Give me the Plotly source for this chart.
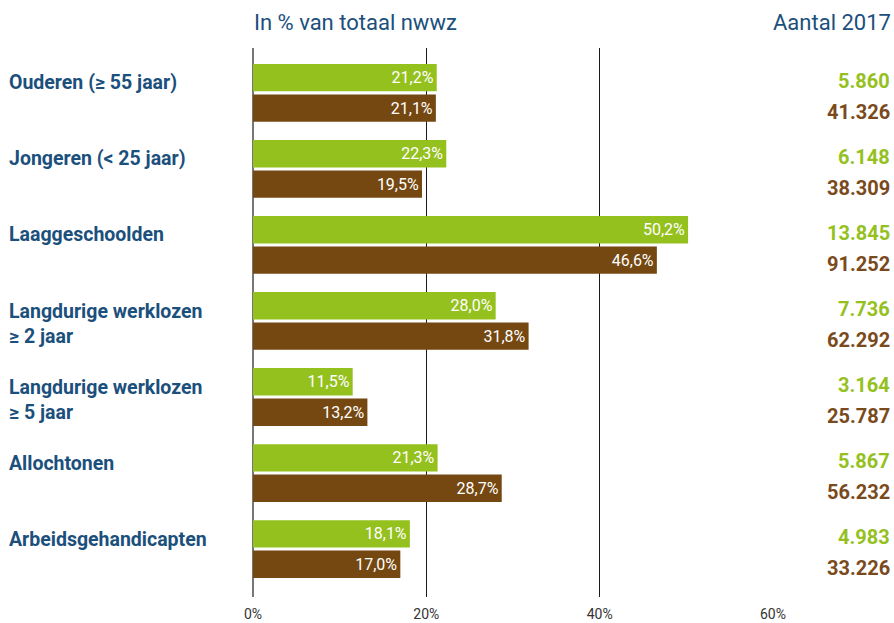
import plotly.graph_objects as go

categories = ["Ouderen (≥ 55 jaar)", "Jongeren (< 25 jaar)", "Laaggeschoolden",
              "Langdurige werklozen<br>≥ 2 jaar", "Langdurige werklozen<br>≥ 5 jaar",
              "Allochtonen", "Arbeidsgehandicapten"]
pct_green = [21.2, 22.3, 50.2, 28.0, 11.5, 21.3, 18.1]
pct_brown = [21.1, 19.5, 46.6, 31.8, 13.2, 28.7, 17.0]
count_green = [5860, 6148, 13845, 7736, 3164, 5867, 4983]
count_brown = [41326, 38309, 91252, 62292, 25787, 56232, 33226]
tick_vals = [0, 20, 40, 60]
tick_text = ["0%", "20%", "40%", "60%"]

GREEN = "#95c11f"
BROWN = "#754812"
BROWN_TXT = "#7a4a1c"
BLUE = "#1b4f7c"
FONT = "Roboto, Arial, sans-serif"

W, H = 894, 623
ML, MR, MT, MB = 253, 121, 48, 26
PW = W - ML - MR
PH = H - MT - MB


def fmt_pct(v):
    return f"{v:.1f}".replace(".", ",") + "%"


def fmt_int(v):
    return f"{v:,}".replace(",", ".")


def px_x(page_x):
    return (page_x - ML) / PW


def px_y(page_y):
    return 1 - (page_y - MT) / PH


ys = list(range(len(categories)))

fig = go.Figure()
for vals, col in ((pct_green, GREEN), (pct_brown, BROWN)):
    fig.add_trace(go.Bar(y=ys, x=vals, orientation="h", marker_color=col,
                         marker_line_width=0,
                         text=[fmt_pct(v) for v in vals], textposition="inside",
                         insidetextanchor="end",
                         textfont=dict(color="white", size=16, family=FONT),
                         hoverinfo="skip"))

ann = []
for i, c in enumerate(categories):
    multi = "<br>" in c
    ann.append(dict(x=px_x(7), xref="paper", y=i, yref="y", text=c, showarrow=False,
                    xanchor="left", yanchor="middle", align="left",
                    yshift=-3 if multi else 10,
                    font=dict(family=FONT, size=19.5, color=BLUE, weight="bold")))
    ann.append(dict(x=px_x(892), xref="paper", y=i - 0.2, yref="y", text=fmt_int(count_green[i]),
                    showarrow=False, xanchor="right", yanchor="middle", yshift=-3.5,
                    font=dict(family=FONT, size=20, color=GREEN, weight="bold")))
    ann.append(dict(x=px_x(892), xref="paper", y=i + 0.2, yref="y", text=fmt_int(count_brown[i]),
                    showarrow=False, xanchor="right", yanchor="middle", yshift=-3.5,
                    font=dict(family=FONT, size=20, color=BROWN_TXT, weight="bold")))

ann.append(dict(x=px_x(252), xref="paper", y=px_y(22), yref="paper", text="In % van totaal nwwz",
                showarrow=False, xanchor="left", yanchor="middle",
                font=dict(family=FONT, size=22, color=BLUE)))
ann.append(dict(x=px_x(893), xref="paper", y=px_y(22), yref="paper", text="Aantal 2017",
                showarrow=False, xanchor="right", yanchor="middle",
                font=dict(family=FONT, size=22, color=BLUE)))

fig.update_layout(
    width=W, height=H,
    margin=dict(l=ML, r=MR, t=MT, b=MB, pad=0, autoexpand=False),
    paper_bgcolor="white", plot_bgcolor="white",
    barmode="group", bargap=0.2, bargroupgap=0.1,
    showlegend=False,
    annotations=ann,
    uniformtext=dict(minsize=14, mode="show"),
    xaxis=dict(range=[0, 60], tickvals=tick_vals, ticktext=tick_text,
               showgrid=True, gridcolor="#1a1a1a", gridwidth=1,
               zeroline=True, zerolinecolor="#777777", zerolinewidth=1.5,
               showline=False, ticks="", ticklabelstandoff=7, automargin=False,
               tickfont=dict(family=FONT, size=14, color="#333333"), fixedrange=True),
    yaxis=dict(range=[6.63, -0.59], showticklabels=False, showgrid=False, automargin=False,
               zeroline=False, showline=False, fixedrange=True),
)

fig.write_html("out.html", config={"displayModeBar": False},
               post_script="document.body.style.margin='0';document.body.style.overflow='hidden';")
